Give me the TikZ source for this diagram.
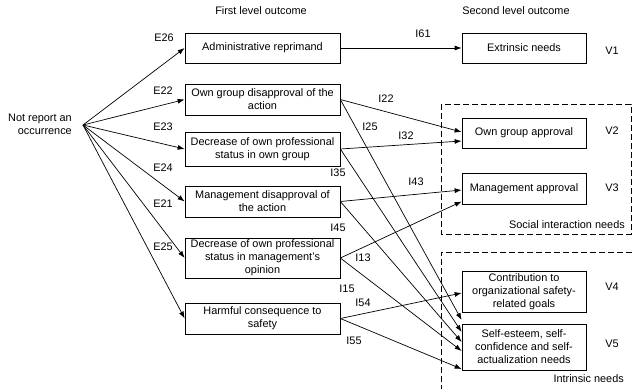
\documentclass[tikz,border=0pt]{standalone}
\usepackage{fontspec}
\setmainfont{Liberation Sans}
\usetikzlibrary{arrows.meta}
\begin{document}
\begin{tikzpicture}[x=1pt,y=-1pt,
    font=\fontsize{10.9}{13}\selectfont,
    outc/.style={draw, line width=0.7pt, align=center, inner sep=0.5pt, minimum width=155pt},
    needs/.style={draw, line width=0.7pt, align=center, inner sep=0.5pt, minimum width=124pt},
    lbl/.style={inner sep=0pt},
    arr/.style={-{Latex[length=7pt,width=5pt]}, line width=0.7pt},
    grp/.style={dash pattern=on 6pt off 3pt, line width=0.7pt}]
      \useasboundingbox (0,0) rectangle (632,389);

      \node[lbl, align=right, anchor=east] (nr) at (72,124) {Not report an\\occurrence};
      \coordinate (src) at (83,125);
      \node[lbl] (t1) at (261,11) {First level outcome};
      \node[lbl] (t2) at (516,11) {Second level outcome};

      % first level outcomes
      \node[outc, minimum height=30pt] (o6) at (262.5,48) {Administrative reprimand};
      \node[outc, minimum height=31pt] (o2) at (262.5,99.5) {Own group disapproval of the\\action};
      \node[outc, minimum height=34pt] (o3) at (262.5,149) {Decrease of own professional\\status in own group};
      \node[outc, minimum height=31pt] (o4) at (262.5,201.5) {Management disapproval of\\the action};
      \node[outc, minimum height=40pt] (o1) at (262.5,258) {Decrease of own professional\\status in management's\\opinion};
      \node[outc, minimum height=31pt] (o5) at (262.5,318.5) {Harmful consequence to\\safety};

      % second level outcomes
      \node[needs, minimum height=30pt] (v1) at (524,48) {Extrinsic needs};
      \node[needs, minimum height=30pt] (v2) at (524,133) {Own group approval};
      \node[needs, minimum height=31pt] (v3) at (524,188.5) {Management approval};
      \node[needs, minimum height=41pt] (v4) at (524,291.5) {Contribution to\\organizational safety-\\related goals};
      \node[needs, minimum height=46pt] (v5) at (524,347) {Self-esteem, self-\\confidence and self-\\actualization needs};
      \node[lbl] (n1) at (612,51) {V1};
      \node[lbl] (n2) at (612,131) {V2};
      \node[lbl] (n3) at (612,188) {V3};
      \node[lbl] (n4) at (612,287) {V4};
      \node[lbl] (n5) at (612,344) {V5};

      \draw[grp] (441,104) rectangle (631,234);
      \draw[grp] (632,252) -- (441,252) -- (441,389);
      \node[lbl, anchor=east] (g1) at (625,225) {Social interaction needs};
      \node[lbl, anchor=east] (g2) at (624,379) {Intrinsic needs};

      \draw[arr](src) -- (o6.west);
      \draw[arr](src) -- (o2.west);
      \draw[arr](src) -- (o3.west);
      \draw[arr](src) -- (o4.west);
      \draw[arr](src) -- (o1.west);
      \draw[arr](src) -- (o5.west);
      \node[lbl] (e26) at (164,38) {E26};
      \node[lbl] (e22) at (163,91) {E22};
      \node[lbl] (e23) at (163,127) {E23};
      \node[lbl] (e24) at (163,168) {E24};
      \node[lbl] (e21) at (163,204) {E21};
      \node[lbl] (e25) at (163,247) {E25};

      \draw[arr](o6.east) -- (v1.west);
      \draw[arr](o2.east) -- ([yshift=1pt]v2.west);
      \draw[arr](o2.east) -- ([yshift=27pt]v5.west);
      \draw[arr](o3.east) -- ([yshift=-8pt]v2.west);
      \draw[arr](o3.east) -- ([yshift=15pt]v5.west);
      \draw[arr](o4.east) -- ([yshift=-1.5pt]v3.west);
      \draw[arr](o4.east) -- ([yshift=5pt]v5.west);
      \draw[arr](o1.east) -- ([yshift=-13pt]v3.west);
      \draw[arr](o1.east) -- ([yshift=-4pt]v5.west);
      \draw[arr](o5.east) -- ([yshift=-1.5pt]v4.west);
      \draw[arr](o5.east) -- ([yshift=-22pt]v5.west);
      \node[lbl] (i61) at (423,34) {I61};
      \node[lbl] (i22) at (386,99) {I22};
      \node[lbl] (i25) at (370,127) {I25};
      \node[lbl] (i32) at (406,136) {I32};
      \node[lbl] (i35) at (338,173) {I35};
      \node[lbl] (i43) at (416,182) {I43};
      \node[lbl] (i45) at (338,228) {I45};
      \node[lbl] (i13) at (363,258) {I13};
      \node[lbl] (i15) at (347,289) {I15};
      \node[lbl] (i54) at (363,303) {I54};
      \node[lbl] (i55) at (354,341) {I55};

    \end{tikzpicture}
\end{document}
